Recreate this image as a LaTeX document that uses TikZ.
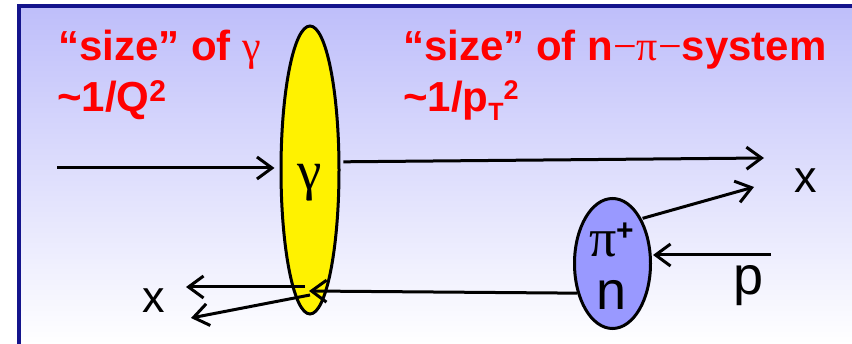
\documentclass[tikz,border=0pt]{standalone}
\usepackage{fontspec}
\setmainfont{Liberation Sans}
\newfontfamily\grk{Liberation Serif}
\usepackage{xcolor}
\usepackage{tikz}
\usetikzlibrary{arrows.meta,positioning,calc,shapes.geometric}
\definecolor{bgtop}{RGB}{190,190,250}
\definecolor{frameblue}{RGB}{20,20,140}
\definecolor{blobblue}{RGB}{153,153,255}

\begin{document}
\begin{tikzpicture}[x=1pt, y=-1pt, >={Straight Barb[length=15pt,width=22pt]},
  title/.style={text=red, font=\fontsize{42}{46}\selectfont\bfseries, inner sep=0pt, anchor=base west},
  lbl/.style={font=\fontsize{45}{45}\selectfont, inner sep=0pt, anchor=base},
  blob/.style={draw, ellipse, line width=3pt, inner sep=0pt},
  ray/.style={->, line width=3pt}]
  \useasboundingbox (0,0) rectangle (852,344);
  \shade[top color=bgtop, bottom color=white] (19,6) rectangle (852,344);
  \draw[frameblue, line width=3.5pt] (19,344) -- (19,6) -- (852,6);
  % gamma and n-pi system
  \node[blob, fill=yellow, minimum width=58pt, minimum height=288pt] (gam) at (310,170) {};
  \node[blob, fill=blobblue, minimum width=76pt, minimum height=130pt] (pin) at (612.5,263.5) {};
  \node[lbl, font=\fontsize{55}{55}\selectfont\grk] (gl) at (310,190) {γ};
  \node[lbl, font=\fontsize{54}{54}\selectfont\grk] (pil) at (603,257) {π};
  \node[inner sep=0pt, anchor=base west, font=\fontsize{30}{30}\selectfont\bfseries] (plus) at (616,241) {+};
  \node[lbl, font=\fontsize{54}{54}\selectfont] (nl) at (612,310) {n};
  % rays
  \coordinate (src) at (57,168);
  \coordinate (xr1) at (764,158);
  \coordinate (xr2) at (754,187);
  \coordinate (pr) at (771,255);
  \coordinate (vtx) at (309,291);
  \coordinate (xl1) at (186,287);
  \coordinate (xl2) at (191,318);
  \draw[ray, shorten >=5pt] (src) -- (gam.west |- src);
  \draw[ray, shorten <=3pt] (gam.15) -- (xr1);
  \draw[ray, shorten <=1pt] (pin.57) -- (xr2);
  \draw[ray, shorten >=1pt] (pr) -- (pr -| pin.east);
  \draw[ray] (pin.220) -- (vtx);
  \draw[ray] ($(vtx)+(-4,-4)$) -- (xl1);
  \draw[ray] ($(vtx)+(1,4)$) -- (xl2);
  \node[lbl] (xr) at (806,193) {x};
  \node[lbl] (xl) at (154,313) {x};
  \node[lbl, font=\fontsize{54}{54}\selectfont] (pl) at (749,295) {p};
  % sizes
  \node[title] (sg) at (58,61) {“size” of {\grk\mdseries γ}};
  \node[title] (sq) at (57,112) {\textasciitilde 1/Q\raisebox{10pt}{\fontsize{30}{30}\selectfont 2}};
  \node[title] (sn) at (403,61) {“size” of n{\grk\mdseries −π−}system};
  \node[title] (sp) at (403,112) {\textasciitilde 1/p\raisebox{-9pt}{\fontsize{25}{25}\selectfont T}\raisebox{12pt}{\fontsize{27}{27}\selectfont 2}};
\end{tikzpicture}
\end{document}
